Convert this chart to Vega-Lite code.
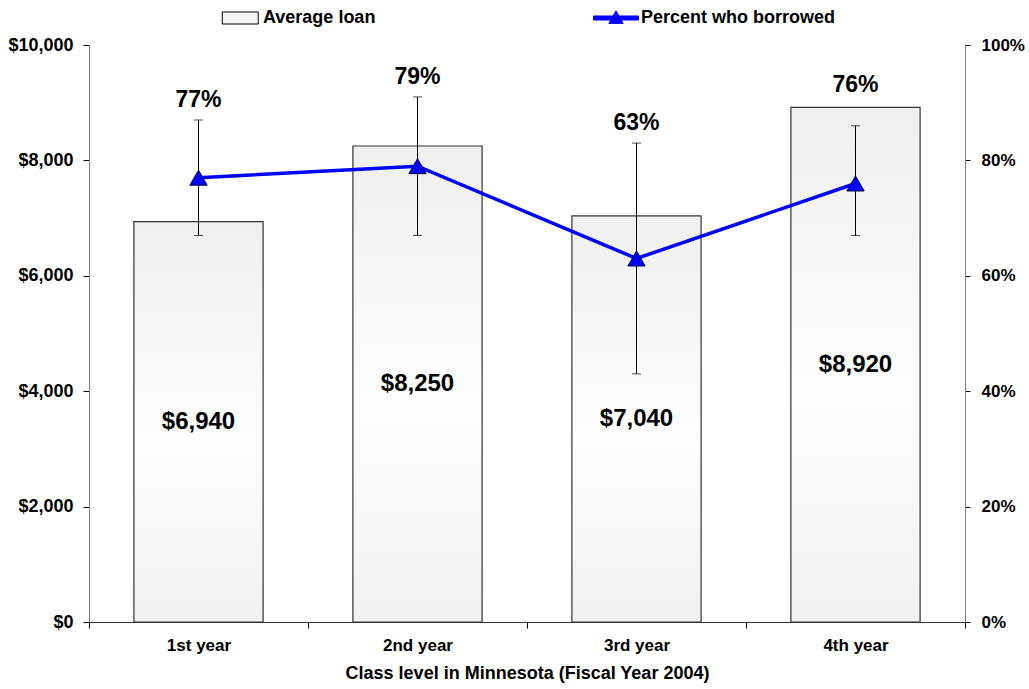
{
  "$schema": "https://vega.github.io/schema/vega-lite/v6.json",
  "width": 876,
  "height": 577,
  "autosize": "none",
  "padding": {"left": 89, "top": 45, "right": 64, "bottom": 67},
  "background": "white",
  "config": {
    "view": {"stroke": null},
    "font": "Liberation Sans",
    "axis": {"grid": false, "labelColor": "black", "labelFontWeight": "bold", "tickColor": "black", "titleColor": "black"}
  },
  "data": {
    "values": [
      {"year": "1st year", "loan": 6940, "pct": 0.77, "lo": 0.67, "hi": 0.87},
      {"year": "2nd year", "loan": 8250, "pct": 0.79, "lo": 0.67, "hi": 0.91},
      {"year": "3rd year", "loan": 7040, "pct": 0.63, "lo": 0.43, "hi": 0.83},
      {"year": "4th year", "loan": 8920, "pct": 0.76, "lo": 0.67, "hi": 0.86}
    ]
  },
  "encoding": {
    "x": {
      "field": "year", "type": "nominal", "sort": null,
      "scale": {"paddingInner": 0, "paddingOuter": 0},
      "axis": {
        "title": "Class level in Minnesota (Fiscal Year 2004)",
        "titleFontSize": 18, "titleFontWeight": "bold", "titlePadding": 11,
        "labelAngle": 0, "labelFontSize": 17, "labelPadding": 9,
        "tickBand": "extent", "tickSize": 6, "domainColor": "#333333"
      }
    }
  },
  "layer": [
    {
      "layer": [
        {
          "mark": {
            "type": "bar",
            "width": {"band": 0.59},
            "fill": {"gradient": "linear", "x1": 0, "y1": 0, "x2": 0, "y2": 1,
              "stops": [{"offset": 0, "color": "#efefef"}, {"offset": 0.55, "color": "#fdfdfd"}, {"offset": 1, "color": "#f1f1f1"}]},
            "stroke": "#333333", "strokeWidth": 1.2
          },
          "encoding": {
            "y": {
              "field": "loan", "type": "quantitative",
              "scale": {"domain": [0, 10000]},
              "axis": {"orient": "left", "title": null, "format": "$,.0f", "values": [0, 2000, 4000, 6000, 8000, 10000],
                "labelFontSize": 18, "labelPadding": 10, "tickSize": 6, "domainColor": "#808080"}
            }
          }
        },
        {
          "transform": [{"filter": "datum.hi < datum.loan / 10000"}],
          "mark": {"type": "text", "fontSize": 23, "fontWeight": "bold", "baseline": "alphabetic", "dy": -15, "color": "black"},
          "encoding": {
            "y": {"field": "loan", "type": "quantitative"},
            "text": {"field": "pct", "type": "quantitative", "format": ".0%"}
          }
        }
      ]
    },
    {
      "layer": [
        {
          "mark": {"type": "rule", "color": "black", "strokeWidth": 1},
          "encoding": {
            "y": {"field": "lo", "type": "quantitative", "scale": {"domain": [0, 1]},
              "axis": {"orient": "right", "title": null, "format": ".0%", "values": [0, 0.2, 0.4, 0.6, 0.8, 1],
                "labelFontSize": 17, "labelPadding": 11, "tickSize": 5, "domainColor": "#808080"}},
            "y2": {"field": "hi"}
          }
        },
        {
          "mark": {"type": "tick", "color": "black", "size": 9, "thickness": 1},
          "encoding": {"y": {"field": "lo", "type": "quantitative"}}
        },
        {
          "mark": {"type": "tick", "color": "black", "size": 9, "thickness": 1},
          "encoding": {"y": {"field": "hi", "type": "quantitative"}}
        },
        {
          "mark": {"type": "line", "color": "#0000ff", "strokeWidth": 3.5},
          "encoding": {"y": {"field": "pct", "type": "quantitative"}}
        },
        {
          "mark": {"type": "point", "shape": "triangle-up", "filled": true, "fill": "#0000ff", "stroke": "#000050", "strokeWidth": 1, "size": 300, "opacity": 1},
          "encoding": {"y": {"field": "pct", "type": "quantitative"}}
        },
        {
          "transform": [{"filter": "datum.hi >= datum.loan / 10000"}],
          "mark": {"type": "text", "fontSize": 23, "fontWeight": "bold", "baseline": "alphabetic", "dy": -13, "color": "black"},
          "encoding": {
            "y": {"field": "hi", "type": "quantitative"},
            "text": {"field": "pct", "type": "quantitative", "format": ".0%"}
          }
        }
      ]
    },
    {
      "mark": {"type": "text", "fontSize": 24, "fontWeight": "bold", "baseline": "middle", "color": "black"},
      "encoding": {
        "y": {"field": "loan", "type": "quantitative", "scale": {"domain": [0, 20000]}, "axis": null},
        "text": {"field": "loan", "type": "quantitative", "format": "$,.0f"}
      }
    },
    {
      "transform": [{"filter": "datum.loan < 0"}],
      "mark": {"type": "point", "filled": true, "opacity": 1},
      "encoding": {
        "shape": {
          "field": "series", "type": "nominal",
          "scale": {"domain": ["Average loan", "Percent who borrowed"],
            "range": ["M-0.7,-0.267H0.9V0.267H-0.7Z", "M-1,-0.09H1V0.09H-1Z M0,-0.32L0.32,0.24L-0.32,0.24Z"]},
          "legend": {"title": null, "orient": "none", "legendX": 126, "legendY": -50, "direction": "horizontal",
            "symbolSize": 2025, "symbolStrokeWidth": 1, "symbolOpacity": 1, "labelFontSize": 18, "labelFontWeight": "bold",
            "labelColor": "black", "labelOffset": 2, "labelLimit": 0, "columnPadding": 215, "padding": 0}
        },
        "fill": {
          "field": "series", "type": "nominal",
          "scale": {"domain": ["Average loan", "Percent who borrowed"], "range": ["#f4f4f4", "#0000ff"]},
          "legend": {"title": null, "orient": "none", "legendX": 126, "legendY": -50, "direction": "horizontal",
            "symbolSize": 2025, "symbolStrokeWidth": 1, "symbolOpacity": 1, "labelFontSize": 18, "labelFontWeight": "bold",
            "labelColor": "black", "labelOffset": 2, "labelLimit": 0, "columnPadding": 215, "padding": 0}
        },
        "stroke": {
          "field": "series", "type": "nominal",
          "scale": {"domain": ["Average loan", "Percent who borrowed"], "range": ["#000000", "#0000ff"]},
          "legend": {"title": null, "orient": "none", "legendX": 126, "legendY": -50, "direction": "horizontal",
            "symbolSize": 2025, "symbolStrokeWidth": 1, "symbolOpacity": 1, "labelFontSize": 18, "labelFontWeight": "bold",
            "labelColor": "black", "labelOffset": 2, "labelLimit": 0, "columnPadding": 215, "padding": 0}
        }
      }
    }
  ],
  "resolve": {"scale": {"y": "independent"}}
}
